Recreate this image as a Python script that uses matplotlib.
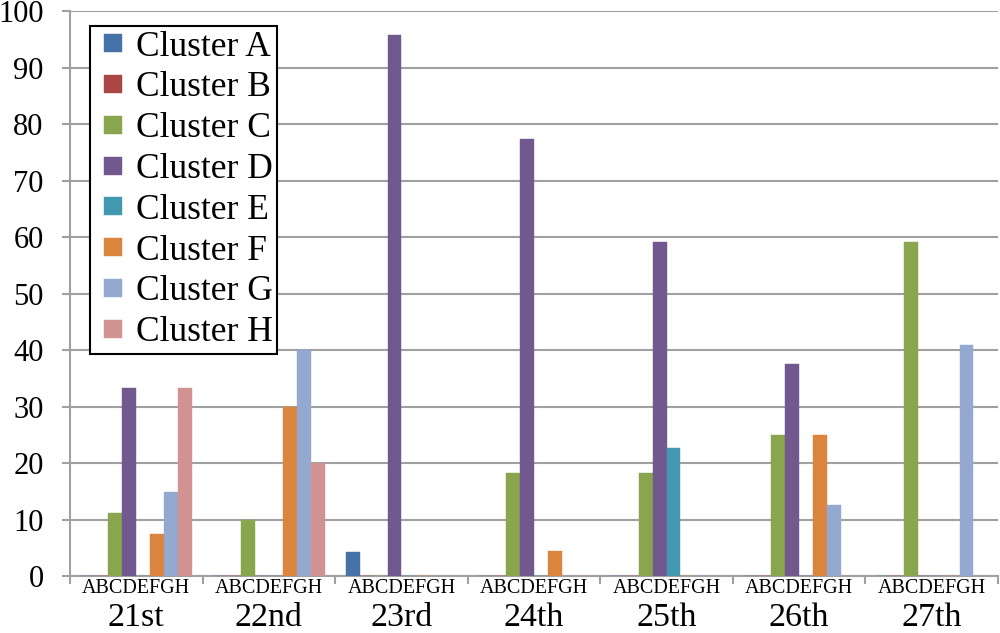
import matplotlib
matplotlib.use("Agg")
import matplotlib.pyplot as plt
import numpy as np
from matplotlib.transforms import blended_transform_factory
from matplotlib.lines import Line2D

plt.rcParams['font.family'] = ['Liberation Serif', 'DejaVu Serif']

days = ["21st", "22nd", "23rd", "24th", "25th", "26th", "27th"]
clusters = ["Cluster A", "Cluster B", "Cluster C", "Cluster D",
            "Cluster E", "Cluster F", "Cluster G", "Cluster H"]
sub_label = "ABCDEFGH"

cluster_a = [0, 0, 4.2, 0, 0, 0, 0]
cluster_b = [0, 0, 0, 0, 0, 0, 0]
cluster_c = [11.1, 10, 0, 18.2, 18.2, 25, 59.1]
cluster_d = [33.3, 0, 95.7, 77.3, 59.1, 37.5, 0]
cluster_e = [0, 0, 0, 0, 22.7, 0, 0]
cluster_f = [7.4, 30, 0, 4.5, 0, 25, 0]
cluster_g = [14.8, 40, 0, 0, 0, 12.5, 40.9]
cluster_h = [33.3, 20, 0, 0, 0, 0, 0]
series = [cluster_a, cluster_b, cluster_c, cluster_d,
          cluster_e, cluster_f, cluster_g, cluster_h]

colors = ["#4572A7", "#AA4643", "#89A54E", "#71588F",
          "#4198AF", "#DB843D", "#93A9CF", "#D19392"]

fig = plt.figure(figsize=(10, 6.33), dpi=100)
ax = fig.add_axes([0.07, 0.090, 0.928, 0.8926])

n = len(series)
w = 0.105
x = np.arange(len(days))
for j, (vals, c, lab) in enumerate(zip(series, colors, clusters)):
    ax.bar(x + (j - (n - 1) / 2) * w, vals, width=w, color=c, label=lab,
           edgecolor=c, linewidth=0.3, zorder=3)

ax.set_xlim(-0.5, len(days) - 0.5)
ax.set_ylim(0, 100)
ax.set_yticks(np.arange(0, 101, 10))
ax.yaxis.grid(True, color="#A0A0A0", linewidth=1.5, zorder=0)
ax.set_axisbelow(True)

for s in ["top", "right"]:
    ax.spines[s].set_visible(False)
for s in ["left", "bottom"]:
    ax.spines[s].set_color("#A0A0A0")
    ax.spines[s].set_linewidth(1.5)

ax.tick_params(axis='y', direction='out', length=6, width=1.5, color="#A0A0A0",
               labelsize=22, pad=13)
ax.set_xticks(np.arange(-0.5, len(days)), minor=False)
ax.set_xticklabels([])
ax.tick_params(axis='x', direction='out', length=6, width=1.5, color="#A0A0A0")

trans = blended_transform_factory(ax.transData, fig.transFigure)
for i, d in enumerate(days):
    ax.text(i, 1 - 593 / 633, sub_label, transform=trans, ha='center', va='baseline',
            fontsize=14.5)
    ax.text(i, 1 - 626 / 633, d, transform=trans, ha='center', va='baseline',
            fontsize=24.5)

handles = [Line2D([], [], linestyle='none', marker='s', markersize=12.5,
                  markerfacecolor=c, markeredgecolor=c, markeredgewidth=0.3)
           for c in colors]
leg = ax.legend(handles, clusters, loc='upper left', bbox_to_anchor=(0.0215, 0.974),
                fontsize=25.5, frameon=True, fancybox=False, handlelength=1.0,
                handletextpad=0.15, labelspacing=0.22, borderpad=0.14,
                borderaxespad=0)
leg.get_frame().set_edgecolor("black")
leg.get_frame().set_linewidth(1.5)
leg.get_frame().set_alpha(1)

fig.savefig("out.png", dpi=100)
